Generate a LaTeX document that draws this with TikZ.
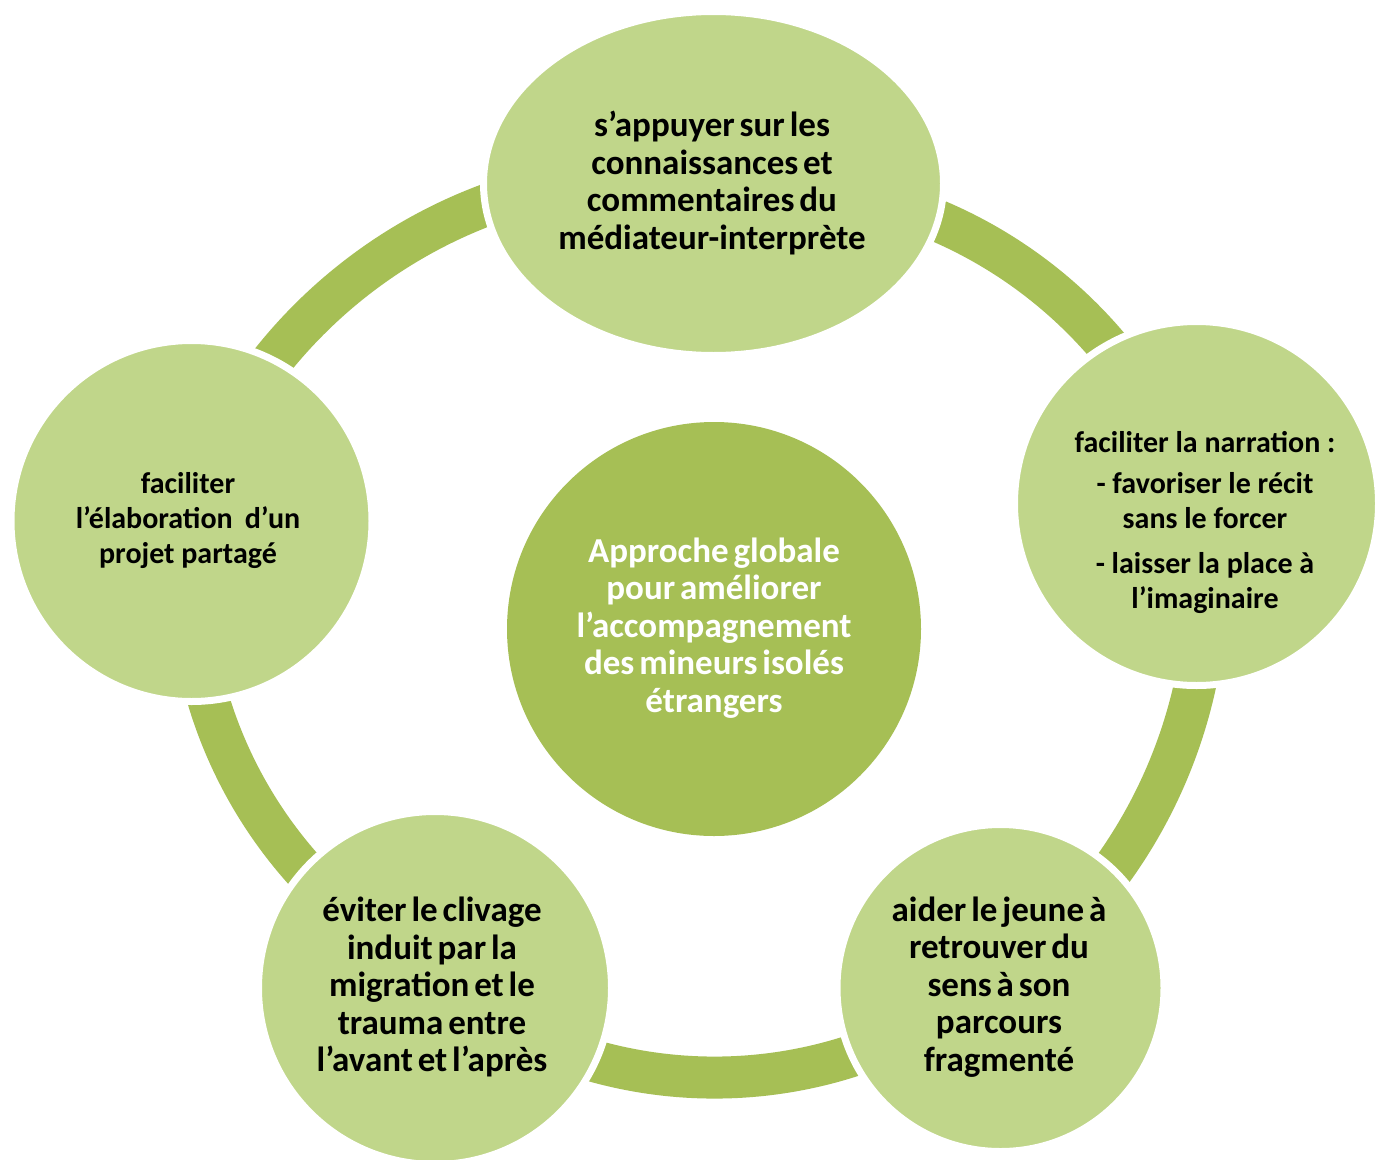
\documentclass[tikz,border=0pt]{standalone}
\usepackage{fontspec}
\setmainfont{Carlito}
\usetikzlibrary{shapes.geometric}
\definecolor{nodegreen}{HTML}{C0D68A}
\definecolor{ringgreen}{HTML}{A6BF55}
\newcommand\lblfont{\bfseries\fontsize{35}{37.5}\selectfont}
\newcommand\tightsp{\spaceskip=0.14em\relax}
\begin{document}
\begin{tikzpicture}[x=1pt,y=-1pt,
  outer/.style={circle, fill=nodegreen, draw=white, line width=7pt, inner sep=0pt},
  lbl/.style={align=center, font=\lblfont, inner sep=0pt},
  lblsmall/.style={align=center, font=\bfseries\fontsize{30}{35}\selectfont, inner sep=0pt},
  ringline/.style={draw=ringgreen, line width=42pt}]
\useasboundingbox[fill=white] (0,0) rectangle (1381,1159);
% ring arcs (their ends run under the nodes)
\coordinate (cA) at (662.7,672.9);
\coordinate (cB) at (757.1,643.8);
\coordinate (cC) at (706.75,577.65);
\coordinate (cD) at (714.5,631.6);
\coordinate (cE) at (639.2,569.8);
\draw[ringline] (cA) ++(-145.8:500) arc[start angle=-145.8, end angle=-106, radius=500];
\draw[ringline] (cB) ++(-72.1:460) arc[start angle=-72.1, end angle=-35.2, radius=460];
\draw[ringline] (cC) ++(7.75:500) arc[start angle=7.75, end angle=40.3, radius=500];
\draw[ringline] (cD) ++(66.8:446) arc[start angle=66.8, end angle=110.5, radius=446];
\draw[ringline] (cE) ++(133.1:450) arc[start angle=133.1, end angle=168.3, radius=450];
% nodes
\node[outer, ellipse, minimum width=460pt, minimum height=344pt] (top) at (713.5,183.5) {};
\node[outer, minimum size=364pt] (right) at (1196.5,503.5) {};
\node[outer, minimum size=361pt] (left) at (191.5,521) {};
\node[outer, minimum size=353pt] (botleft) at (435,988) {};
\node[outer, minimum size=327pt] (botright) at (1000.5,988) {};
\node[circle, fill=ringgreen, minimum size=414pt, inner sep=0pt] (centre) at (714,629) {};
% labels
\node[lbl] (ttop) at (712,183) {\tightsp s’appuyer sur les\\\tightsp connaissances et\\\tightsp commentaires du\\médiateur-interprète};
\node[lbl, text=white] (tcentre) at (714,628) {\tightsp Approche globale\\\tightsp pour améliorer\\l’accompagnement\\\tightsp des mineurs isolés\\étrangers};
\node[lblsmall] (tright) at (1205,522.5) {faciliter la narration :\\[6pt]- favoriser le récit\\sans le forcer\\[10pt]- laisser la place à\\l’imaginaire};
\node[lblsmall] (tleft) at (188,520.5) {faciliter\\l’élaboration\hspace{0.4em}d’un\\projet partagé};
\node[lbl] (tbotleft) at (432,987) {\tightsp éviter le clivage\\\tightsp induit par la\\\tightsp migration et le\\\tightsp trauma entre\\\tightsp l’avant et l’après};
\node[lbl] (tbotright) at (999,987) {\tightsp aider le jeune à\\\tightsp retrouver du\\\tightsp sens à son\\parcours\\fragmenté};
\end{tikzpicture}
\end{document}
